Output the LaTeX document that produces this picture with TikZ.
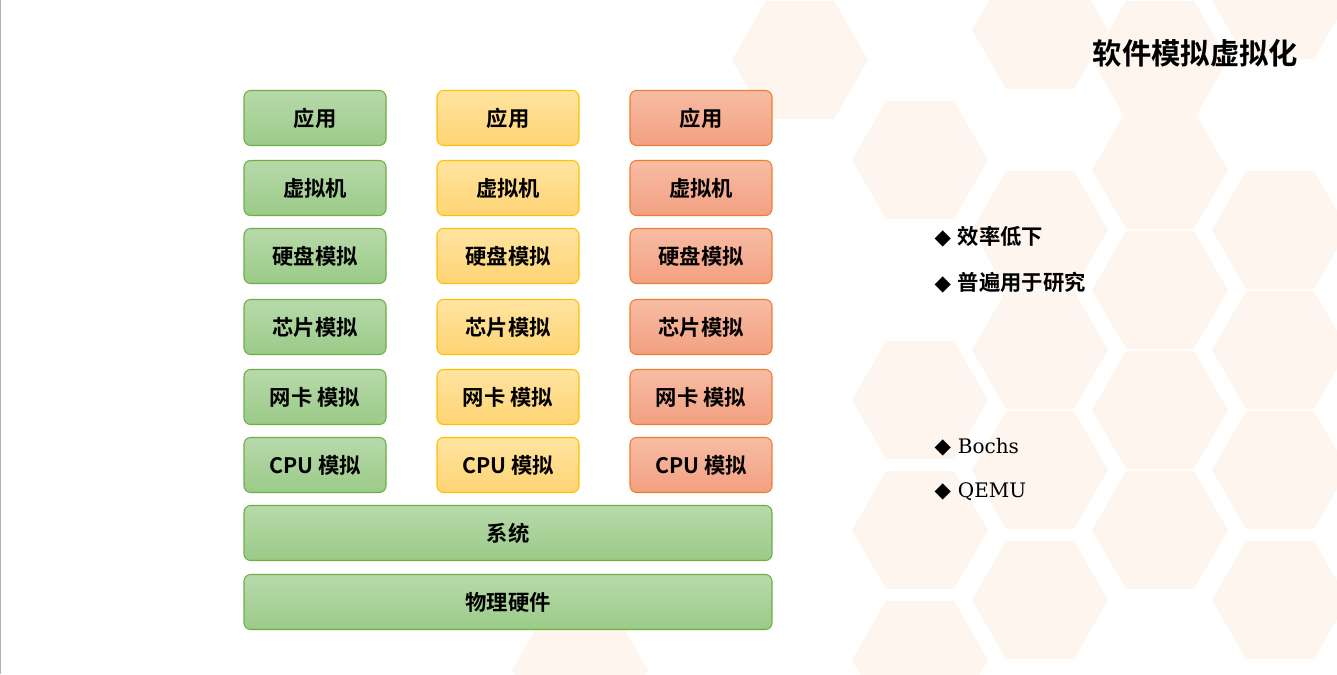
\documentclass[tikz,border=0pt]{standalone}
\usepackage{fontspec}
\setmainfont{DejaVu Serif}
\newfontfamily\cjk{Noto Sans CJK SC}
\newfontfamily\cjkb{Noto Sans CJK SC Bold}
\usetikzlibrary{shapes.geometric}
\definecolor{gfa}{HTML}{B7D9AA}\definecolor{gfb}{HTML}{9BCB88}\definecolor{gbd}{HTML}{70AD47}
\definecolor{yfa}{HTML}{FFE4A0}\definecolor{yfb}{HTML}{FFD474}\definecolor{ybd}{HTML}{FFC000}
\definecolor{ofa}{HTML}{F7BCA4}\definecolor{ofb}{HTML}{F3A081}\definecolor{obd}{HTML}{ED7D31}
\definecolor{hexc}{HTML}{FEF5EE}
\begin{document}
\begin{tikzpicture}[x=0.75pt,y=-0.75pt,
  box/.style={rounded corners=5pt,line width=0.8pt,font=\cjkb\fontsize{16}{18}\selectfont,text=black},
  gb/.style={box,draw=gbd,top color=gfa,bottom color=gfb},
  yb/.style={box,draw=ybd,top color=yfa,bottom color=yfb},
  ob/.style={box,draw=obd,top color=ofa,bottom color=ofb},
  hex/.style={regular polygon,regular polygon sides=6,minimum size=136*0.75pt,fill=hexc,draw=none,inner sep=0},
  bl/.style={anchor=west,font=\cjkb\fontsize{16}{18}\selectfont}]
\useasboundingbox (0,0) rectangle (1337,674);
\fill[white] (0,0) rectangle (1337,674);
% background hexagons
\foreach \p in {(1040,30),(1160,60),(1280,0),(800,60),(920,160),(1040,230),(1160,170),(1280,230),(1040,350),(1160,290),(1280,350),(920,400),(1160,410),(1040,470),(1280,470),(920,530),(1160,530),(1040,600),(1280,600),(920,660),(580,670)}
  \node[hex] at \p {};
\draw[gray!60] (0.5,0) -- (0.5,674);
% title
\node[anchor=east,font=\cjkb\fontsize{22}{24}\selectfont] (title) at (1303,53) {软件模拟虚拟化};
% columns
\foreach \x/\s/\n in {315/gb/g,508/yb/y,701/ob/o}{
  \foreach \y/\t/\k in {118/应用/1,188/虚拟机/2,256/硬盘模拟/3,327/芯片模拟/4,397/网卡 模拟/5,465/CPU 模拟/6}
    \node[\s,minimum width=142*0.75pt,minimum height=55*0.75pt] (\n\k) at (\x,\y) {\t};
}
\node[gb,minimum width=528*0.75pt,minimum height=55*0.75pt] (sys) at (508,533) {系统};
\node[gb,minimum width=528*0.75pt,minimum height=55*0.75pt] (hw) at (508,602) {物理硬件};
% bullets
\node[bl] (b1) at (930,237) {\fontspec{DejaVu Sans}◆\ \cjkb 效率低下};
\node[bl] (b2) at (930,283) {\fontspec{DejaVu Sans}◆\ \cjkb 普遍用于研究};
\node[bl] (b3) at (930,447) {\fontspec{DejaVu Sans}◆\ \fontspec{DejaVu Serif}\fontsize{15}{17}\selectfont Bochs};
\node[bl] (b4) at (930,492) {\fontspec{DejaVu Sans}◆\ \fontspec{DejaVu Serif}\fontsize{15}{17}\selectfont QEMU};
\end{tikzpicture}
\end{document}
